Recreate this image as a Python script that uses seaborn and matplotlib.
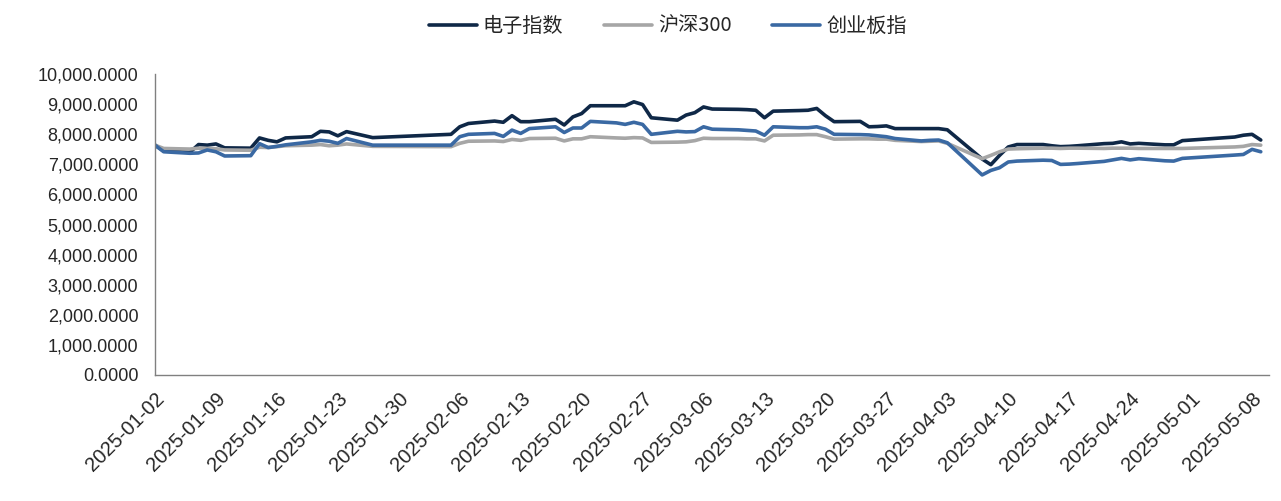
import pandas as pd
import seaborn as sns
import matplotlib.pyplot as plt
import matplotlib.dates as mdates
from matplotlib.ticker import FuncFormatter

# trading days (holidays show up as straight segments)
dates = (
    ["2025-01-%02d" % d for d in [2, 3, 6, 7, 8, 9, 10, 13, 14, 15, 16, 17, 20, 21, 22, 23, 24, 27]]
    + ["2025-02-%02d" % d for d in [5, 6, 7, 10, 11, 12, 13, 14, 17, 18, 19, 20, 21, 24, 25, 26, 27, 28]]
    + ["2025-03-%02d" % d for d in [3, 4, 5, 6, 7, 10, 11, 12, 13, 14, 17, 18, 19, 20, 21, 24, 25, 26, 27, 28, 31]]
    + ["2025-04-%02d" % d for d in [1, 2, 3, 7, 8, 9, 10, 11, 14, 15, 16, 17, 18, 21, 22, 23, 24, 25, 28, 29, 30]]
    + ["2025-05-%02d" % d for d in [6, 7, 8, 9]]
)

electronics = [
    7640, 7450, 7400, 7660, 7640, 7680, 7550, 7540, 7880, 7800, 7750, 7880, 7920, 8100, 8080, 7950, 8090, 7890,
    8000, 8250, 8360, 8440, 8400, 8620, 8420, 8420, 8500, 8310, 8580, 8690, 8950, 8950, 8950, 9080, 8990, 8550,
    8470, 8640, 8720, 8910, 8840, 8830, 8820, 8800, 8550, 8770, 8790, 8800, 8860, 8620, 8420, 8430, 8250, 8260,
    8280, 8190, 8190,
    8190, 8190, 8150, 7180, 6990, 7300, 7580, 7660, 7660, 7620, 7590, 7600, 7620, 7690, 7700, 7750, 7680, 7700,
    7650, 7650, 7790,
    7910, 7970, 8000, 7810,
]

hs300 = [
    7640, 7530, 7510, 7540, 7530, 7520, 7480, 7470, 7570, 7560, 7590, 7620, 7640, 7660, 7620, 7640, 7680, 7600,
    7590, 7700, 7770, 7780, 7760, 7830, 7800, 7860, 7870, 7780, 7850, 7850, 7920, 7880, 7870, 7890, 7880, 7730,
    7740, 7750, 7790, 7870, 7860, 7860, 7850, 7850, 7780, 7970, 7980, 7990, 7990, 7920, 7840, 7850, 7850, 7840,
    7840, 7800, 7760,
    7770, 7780, 7700, 7190, 7300, 7420, 7510, 7520, 7540, 7540, 7530, 7540, 7540, 7530, 7540, 7540, 7540, 7530,
    7530, 7530, 7530,
    7580, 7600, 7660, 7640,
]

chinext = [
    7640, 7420, 7370, 7380, 7480, 7420, 7280, 7290, 7690, 7560, 7600, 7650, 7750, 7800, 7770, 7700, 7860, 7640,
    7640, 7920, 8000, 8030, 7930, 8140, 8030, 8190, 8250, 8060, 8210, 8210, 8430, 8380, 8330, 8400, 8330, 8000,
    8100, 8080, 8090, 8250, 8170, 8150, 8130, 8110, 7970, 8250, 8220, 8220, 8250, 8170, 8000, 7990, 7980, 7950,
    7920, 7860, 7780,
    7800, 7810, 7720, 6650, 6800, 6890, 7080, 7110, 7140, 7130, 7000, 7010, 7030, 7100, 7150, 7200, 7150, 7190,
    7120, 7110, 7200,
    7310, 7330, 7500, 7420,
]

series_names = ["电子指数", "沪深300", "创业板指"]
colors = ["#0f2847", "#a6a6a6", "#3a69a3"]

df = pd.DataFrame({"date": pd.to_datetime(dates),
                   series_names[0]: electronics,
                   series_names[1]: hs300,
                   series_names[2]: chinext})
long_df = df.melt(id_vars="date", var_name="index", value_name="value")

sns.set_style("white")
plt.rcParams["font.family"] = ["Liberation Sans", "Noto Sans CJK SC", "DejaVu Sans"]

fig = plt.figure(figsize=(12.81, 5.01), dpi=100)
ax = fig.add_axes([0.121, 0.2515, 0.870, 0.6005])

sns.lineplot(data=long_df, x="date", y="value", hue="index", hue_order=series_names,
             palette=colors, linewidth=2.6, ax=ax)

ax.set_ylim(0, 10000)
ax.set_yticks(range(0, 10001, 1000))
ax.yaxis.set_major_formatter(FuncFormatter(lambda v, p: f"{v:,.4f}"))
ax.set_xlim(pd.Timestamp("2025-01-02"), pd.Timestamp("2025-05-10"))
ax.set_xticks(pd.date_range("2025-01-02", "2025-05-08", freq="7D"))
ax.xaxis.set_major_formatter(mdates.DateFormatter("%Y-%m-%d"))
ax.set_xlabel("")
ax.set_ylabel("")

ax.tick_params(axis="both", direction="in", length=5, color="#808080")
ax.tick_params(axis="y", labelsize=13, pad=12)
ax.tick_params(axis="x", labelsize=14.5, pad=10)
for lab in ax.get_xticklabels():
    lab.set_rotation(45)
    lab.set_ha("right")
    lab.set_rotation_mode("anchor")

for side in ["top", "right"]:
    ax.spines[side].set_visible(False)
for side in ["left", "bottom"]:
    ax.spines[side].set_color("#808080")
    ax.spines[side].set_linewidth(1)

ax.legend(loc="upper center", bbox_to_anchor=(0.46, 1.255), ncol=3, frameon=False,
          handlelength=2.4, columnspacing=2.0, handletextpad=0.3,
          prop={"family": ["Noto Sans CJK SC", "DejaVu Sans"], "size": 14.5})

fig.savefig("out.png", dpi=100)
